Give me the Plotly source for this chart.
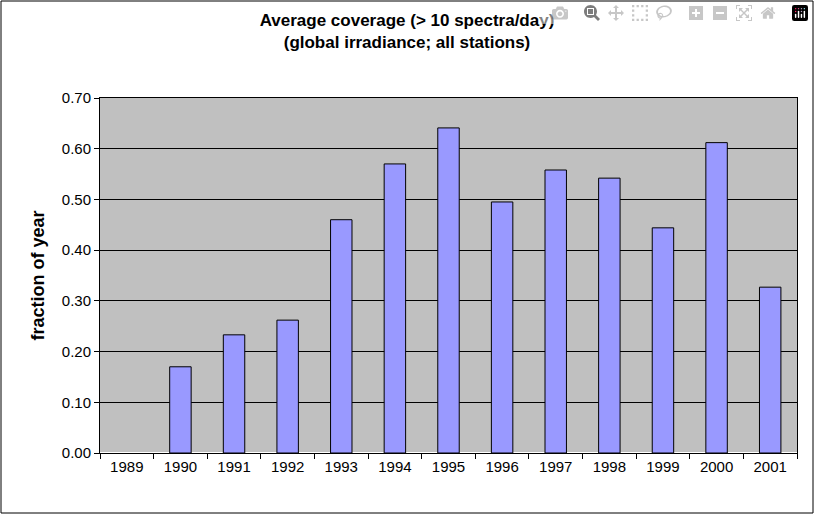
import plotly.graph_objects as go

years = ["1989", "1990", "1991", "1992", "1993", "1994", "1995", "1996", "1997", "1998", "1999", "2000", "2001"]
coverage = [0, 0.170, 0.233, 0.262, 0.460, 0.570, 0.641, 0.495, 0.558, 0.542, 0.444, 0.612, 0.327]

# no outline for empty bars
outline = [0 if v == 0 else 1 for v in coverage]

fig = go.Figure()
fig.add_trace(go.Bar(x=years, y=coverage, marker=dict(color="#9999FF", line=dict(color="black", width=outline)),
                     width=0.4))

L, R, T, B = 100, 17, 98, 61
pw, ph = 814 - L - R, 514 - T - B
fig.update_layout(
    width=814, height=514,
    margin=dict(l=L, r=R, t=T, b=B),
    paper_bgcolor="white", plot_bgcolor="#C0C0C0",
    font=dict(family="Arial", size=15, color="black"),
    title=dict(text="<b>Average coverage (> 10 spectra/day)<br>(global irradiance; all stations)</b>",
               x=0.5, xanchor="center", y=0.95, yanchor="top", font=dict(size=17)),
    showlegend=False,
    xaxis=dict(type="category", tickson="boundaries", ticks="outside", ticklen=5, tickcolor="black",
               showline=True, linecolor="black", mirror=True, showgrid=False),
    yaxis=dict(range=[0, 0.7], dtick=0.1, tickformat=".2f", ticks="outside", ticklen=5, tickcolor="black",
               showline=True, linecolor="black", mirror=True, gridcolor="black", gridwidth=1,
               title=dict(text="<b>fraction of year</b>", standoff=12)),
)
fig.add_shape(type="rect", xref="paper", yref="paper",
              x0=-(L - 1) / pw, x1=1 + (R - 1) / pw, y0=-(B - 1) / ph, y1=1 + (T - 1) / ph,
              line=dict(color="black", width=1))
fig.write_html("out.html", post_script="document.body.style.margin='0';")
